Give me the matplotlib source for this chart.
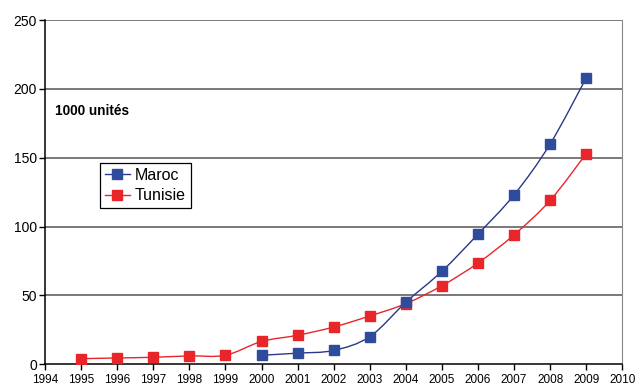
import numpy as np
import matplotlib
matplotlib.use("Agg")
import matplotlib.pyplot as plt
from matplotlib.path import Path
from matplotlib.patches import PathPatch
from matplotlib.lines import Line2D

plt.rcParams['font.family'] = ['Liberation Sans', 'DejaVu Sans']

years_maroc = [2000, 2001, 2002, 2003, 2004, 2005, 2006, 2007, 2008, 2009]
maroc = [6.5, 8, 10, 20, 45, 67.5, 94.5, 123, 160, 208]

years_tunisie = [1995, 1996, 1997, 1998, 1999, 2000, 2001, 2002, 2003, 2004,
                 2005, 2006, 2007, 2008, 2009]
tunisie = [4, 4.5, 5, 6, 6.5, 16.5, 21, 27, 35, 44, 57, 73.5, 94, 119, 153]

blue = '#2f4b9b'
blue_line = '#2a3886'
red = '#e8262a'


def smooth_path(xs, ys):
    # cubic bezier segments through every point (Catmull-Rom tangents)
    x = np.asarray(xs, float)
    y = np.asarray(ys, float)
    n = len(x)
    verts = [(x[0], y[0])]
    codes = [Path.MOVETO]
    for i in range(n - 1):
        p0 = (x[max(i - 1, 0)], y[max(i - 1, 0)])
        p1 = (x[i], y[i])
        p2 = (x[i + 1], y[i + 1])
        p3 = (x[min(i + 2, n - 1)], y[min(i + 2, n - 1)])
        c1 = (p1[0] + (p2[0] - p0[0]) / 6, p1[1] + (p2[1] - p0[1]) / 6)
        c2 = (p2[0] - (p3[0] - p1[0]) / 6, p2[1] - (p3[1] - p1[1]) / 6)
        verts += [c1, c2, p2]
        codes += [Path.CURVE4] * 3
    return Path(verts, codes)


fig = plt.figure(figsize=(6.35, 3.87), dpi=100)
ax = fig.add_axes([0.071, 0.059, 0.909, 0.889])

ax.set_xlim(1994, 2010)
ax.set_ylim(0, 250)
ax.set_xticks(range(1994, 2011))
ax.set_yticks(range(0, 251, 50))
ax.tick_params(axis='x', labelsize=8.5, length=4, width=1, color='black', pad=3)
ax.tick_params(axis='y', labelsize=10, length=4, width=1, color='black', pad=2)

for v in range(50, 251, 50):
    ax.axhline(v, color='#555555', lw=1.1, zorder=1)

ax.spines['left'].set_color('black')
ax.spines['bottom'].set_color('black')
ax.spines['left'].set_linewidth(1.1)
ax.spines['bottom'].set_linewidth(1.1)
ax.spines['right'].set_color('#888888')
ax.spines['top'].set_visible(False)

ax.add_patch(PathPatch(smooth_path(years_tunisie, tunisie), fill=False,
                       edgecolor=red, lw=1.0, zorder=2))
ax.add_patch(PathPatch(smooth_path(years_maroc, maroc), fill=False,
                       edgecolor=blue_line, lw=1.0, zorder=2))
ax.plot(years_tunisie, tunisie, ls='none', marker='s', ms=7.5, color=red, zorder=3)
ax.plot(years_maroc, maroc, ls='none', marker='s', ms=7.5, color=blue, zorder=3)

ax.text(1994.28, 181, '1000 unités', fontsize=9.8, fontweight='bold')

handles = [Line2D([], [], color=blue_line, lw=1, marker='s', ms=7, mfc=blue, mec=blue),
           Line2D([], [], color=red, lw=1, marker='s', ms=7, mfc=red, mec=red)]
ax.legend(handles, ['Maroc', 'Tunisie'], loc='upper left',
          bbox_to_anchor=(0.095, 0.585), fontsize=11.5, frameon=True,
          fancybox=False, edgecolor='black', framealpha=1,
          handlelength=1.6, handletextpad=0.3, borderpad=0.3, labelspacing=0.35,
          borderaxespad=0)
leg = ax.get_legend()
leg.set_bbox_to_anchor((0.095, 0.585), transform=ax.transAxes)
leg._loc = 2
leg.get_frame().set_linewidth(0.9)

fig.savefig('out.png', dpi=100)
